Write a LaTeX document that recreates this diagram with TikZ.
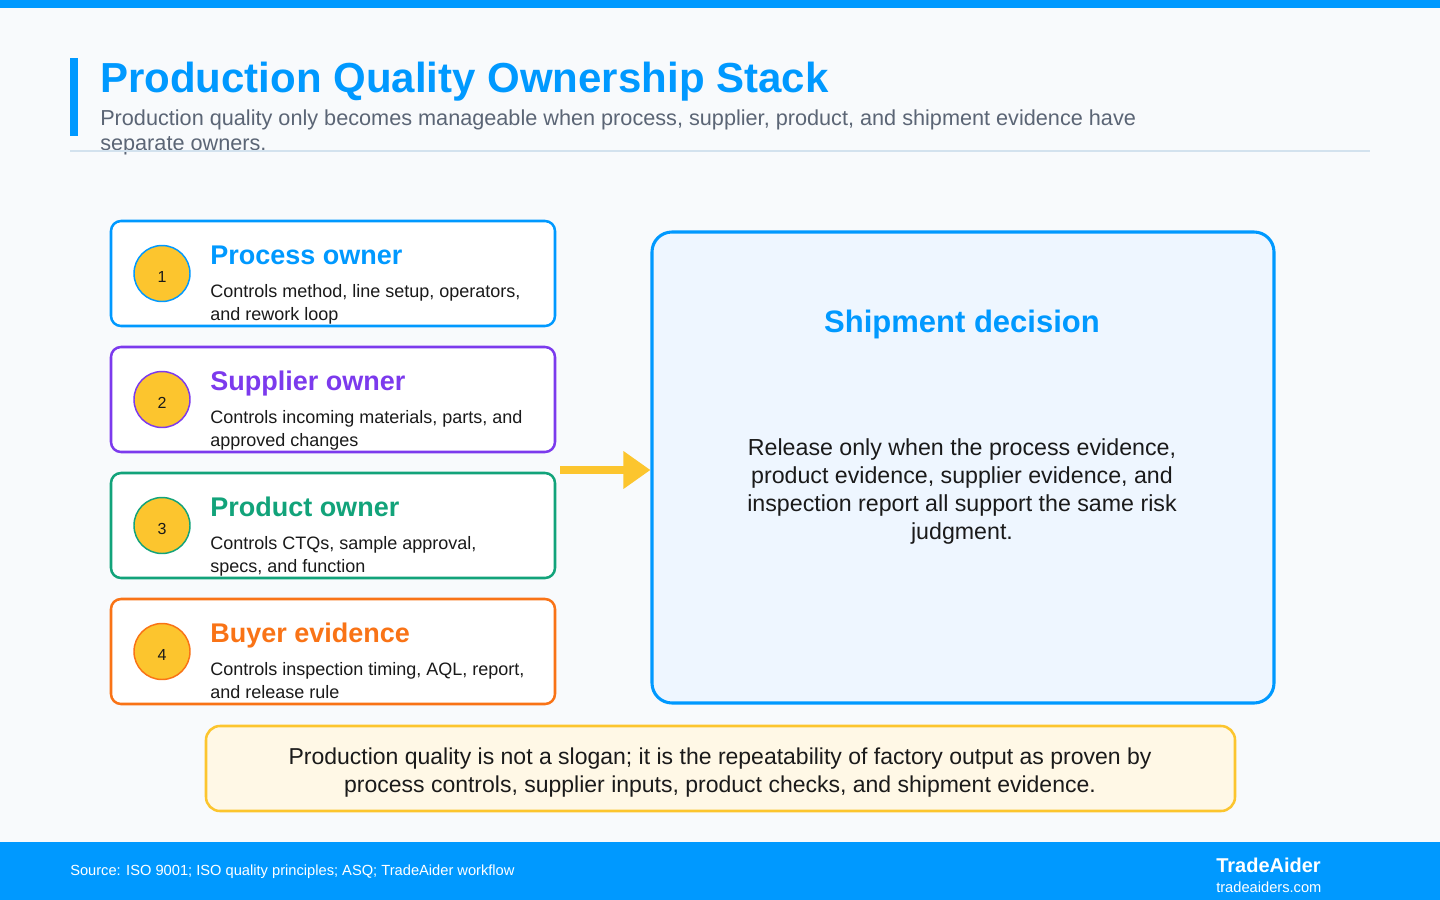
\documentclass[tikz,border=0pt]{standalone}
\usepackage{fontspec}
\setmainfont{Liberation Sans}
\usetikzlibrary{arrows.meta}
\definecolor{bg}{HTML}{F8FAFC}
\definecolor{brand}{HTML}{0099FF}
\definecolor{purp}{HTML}{7C3AED}
\definecolor{grn}{HTML}{12A37A}
\definecolor{orng}{HTML}{F97316}
\definecolor{yel}{HTML}{FCC52E}
\definecolor{subgray}{HTML}{5B6575}
\definecolor{ink}{HTML}{1A1A1A}
\definecolor{rulec}{HTML}{D3E2EE}
\definecolor{boxfill}{HTML}{EEF6FF}
\definecolor{notefill}{HTML}{FFF8E6}
\tikzset{
  card/.style={draw=#1, line width=1.9pt, fill=white, rounded corners=7.5pt, minimum width=333pt, minimum height=78.75pt, inner sep=0pt},
  badge/.style={circle, draw=#1, line width=1.1pt, fill=yel, minimum size=42pt, inner sep=0pt, text height=13pt, text depth=0pt, font=\fontsize{12pt}{14pt}\selectfont, text=ink},
  cardtitle/.style={anchor=base west, inner sep=0pt, text=#1, font=\fontsize{20.25pt}{24pt}\selectfont\bfseries},
  carddesc/.style={anchor=base west, inner sep=0pt, text=ink, align=left, font=\fontsize{13.5pt}{17.25pt}\selectfont},
}
\begin{document}
\begin{tikzpicture}[x=0.75pt,y=-0.75pt]
\useasboundingbox (0,0) rectangle (1440,900);
\fill[bg] (0,0) rectangle (1440,900);
\fill[brand] (0,0) rectangle (1440,8);
% header
\fill[brand] (70,58) rectangle (78,136);
\node[anchor=base west, inner sep=0pt, text=brand, font=\fontsize{31.5pt}{36pt}\selectfont\bfseries] (title) at (100,92) {Production Quality Ownership Stack};
\node[anchor=base west, inner sep=0pt, text=subgray, align=left, font=\fontsize{16.25pt}{18.75pt}\selectfont] (subtitle) at (100,150) {Production quality only becomes manageable when process, supplier, product, and shipment evidence have\\separate owners.};
\draw[rulec, line width=1.5pt] (70,151) -- (1370,151);
% cards
\node[card=brand] (c1) at (333,273.5) {};
\node[card=purp] (c2) at (333,399.5) {};
\node[card=grn] (c3) at (333,525.5) {};
\node[card=orng] (c4) at (333,651.5) {};
\node[badge=brand] (b1) at (162,273.5) {1};
\node[badge=purp] (b2) at (162,399.5) {2};
\node[badge=grn] (b3) at (162,525.5) {3};
\node[badge=orng] (b4) at (162,651.5) {4};
\node[cardtitle=brand] (t1) at (210,264) {Process owner};
\node[carddesc] (d1) at (210,320) {Controls method, line setup, operators,\\and rework loop};
\node[cardtitle=purp] (t2) at (210,390) {Supplier owner};
\node[carddesc] (d2) at (210,446) {Controls incoming materials, parts, and\\approved changes};
\node[cardtitle=grn] (t3) at (210,516) {Product owner};
\node[carddesc] (d3) at (210,572) {Controls CTQs, sample approval,\\specs, and function};
\node[cardtitle=orng] (t4) at (210,642) {Buyer evidence};
\node[carddesc] (d4) at (210,698) {Controls inspection timing, AQL, report,\\and release rule};
% decision box
\node[draw=brand, line width=2.3pt, fill=boxfill, rounded corners=15pt, minimum width=466.5pt, minimum height=353.25pt, inner sep=0pt] (dec) at (963,467.5) {};
\node[anchor=base, inner sep=0pt, text=brand, font=\fontsize{23.25pt}{27pt}\selectfont\bfseries] (dectitle) at (962,332) {Shipment decision};
\node[anchor=base, inner sep=0pt, text=ink, align=center, font=\fontsize{17.4pt}{21pt}\selectfont] (decbody) at (962,539) {Release only when the process evidence,\\product evidence, supplier evidence, and\\inspection report all support the same risk\\judgment.};
% arrow
\coordinate (astart) at (560,470);
\draw[yel, line width=6pt, -{Triangle[length=20.25pt, width=27pt]}] (astart) -- (astart -| dec.west);
% note
\node[draw=yel, line width=1.9pt, fill=notefill, rounded corners=10.5pt, minimum width=771.75pt, minimum height=63.75pt, inner sep=0pt] (note) at (720.5,768.5) {};
\node[anchor=base, inner sep=0pt, text=ink, align=center, font=\fontsize{17.25pt}{21pt}\selectfont] (notetext) at (720,792) {Production quality is not a slogan; it is the repeatability of factory output as proven by\\process controls, supplier inputs, product checks, and shipment evidence.};
% footer
\fill[brand] (0,842) rectangle (1440,900);
\node[anchor=base west, inner sep=0pt, text=white, font=\fontsize{11pt}{12pt}\selectfont] (source) at (70,875) {Source: ISO 9001; ISO quality principles; ASQ; TradeAider workflow};
\node[anchor=base west, inner sep=0pt, text=white, font=\fontsize{15pt}{18pt}\selectfont\bfseries] (brandname) at (1216,872) {TradeAider};
\node[anchor=base west, inner sep=0pt, text=white, font=\fontsize{11pt}{12pt}\selectfont] (url) at (1216,892) {tradeaiders.com};
\end{tikzpicture}
\end{document}
